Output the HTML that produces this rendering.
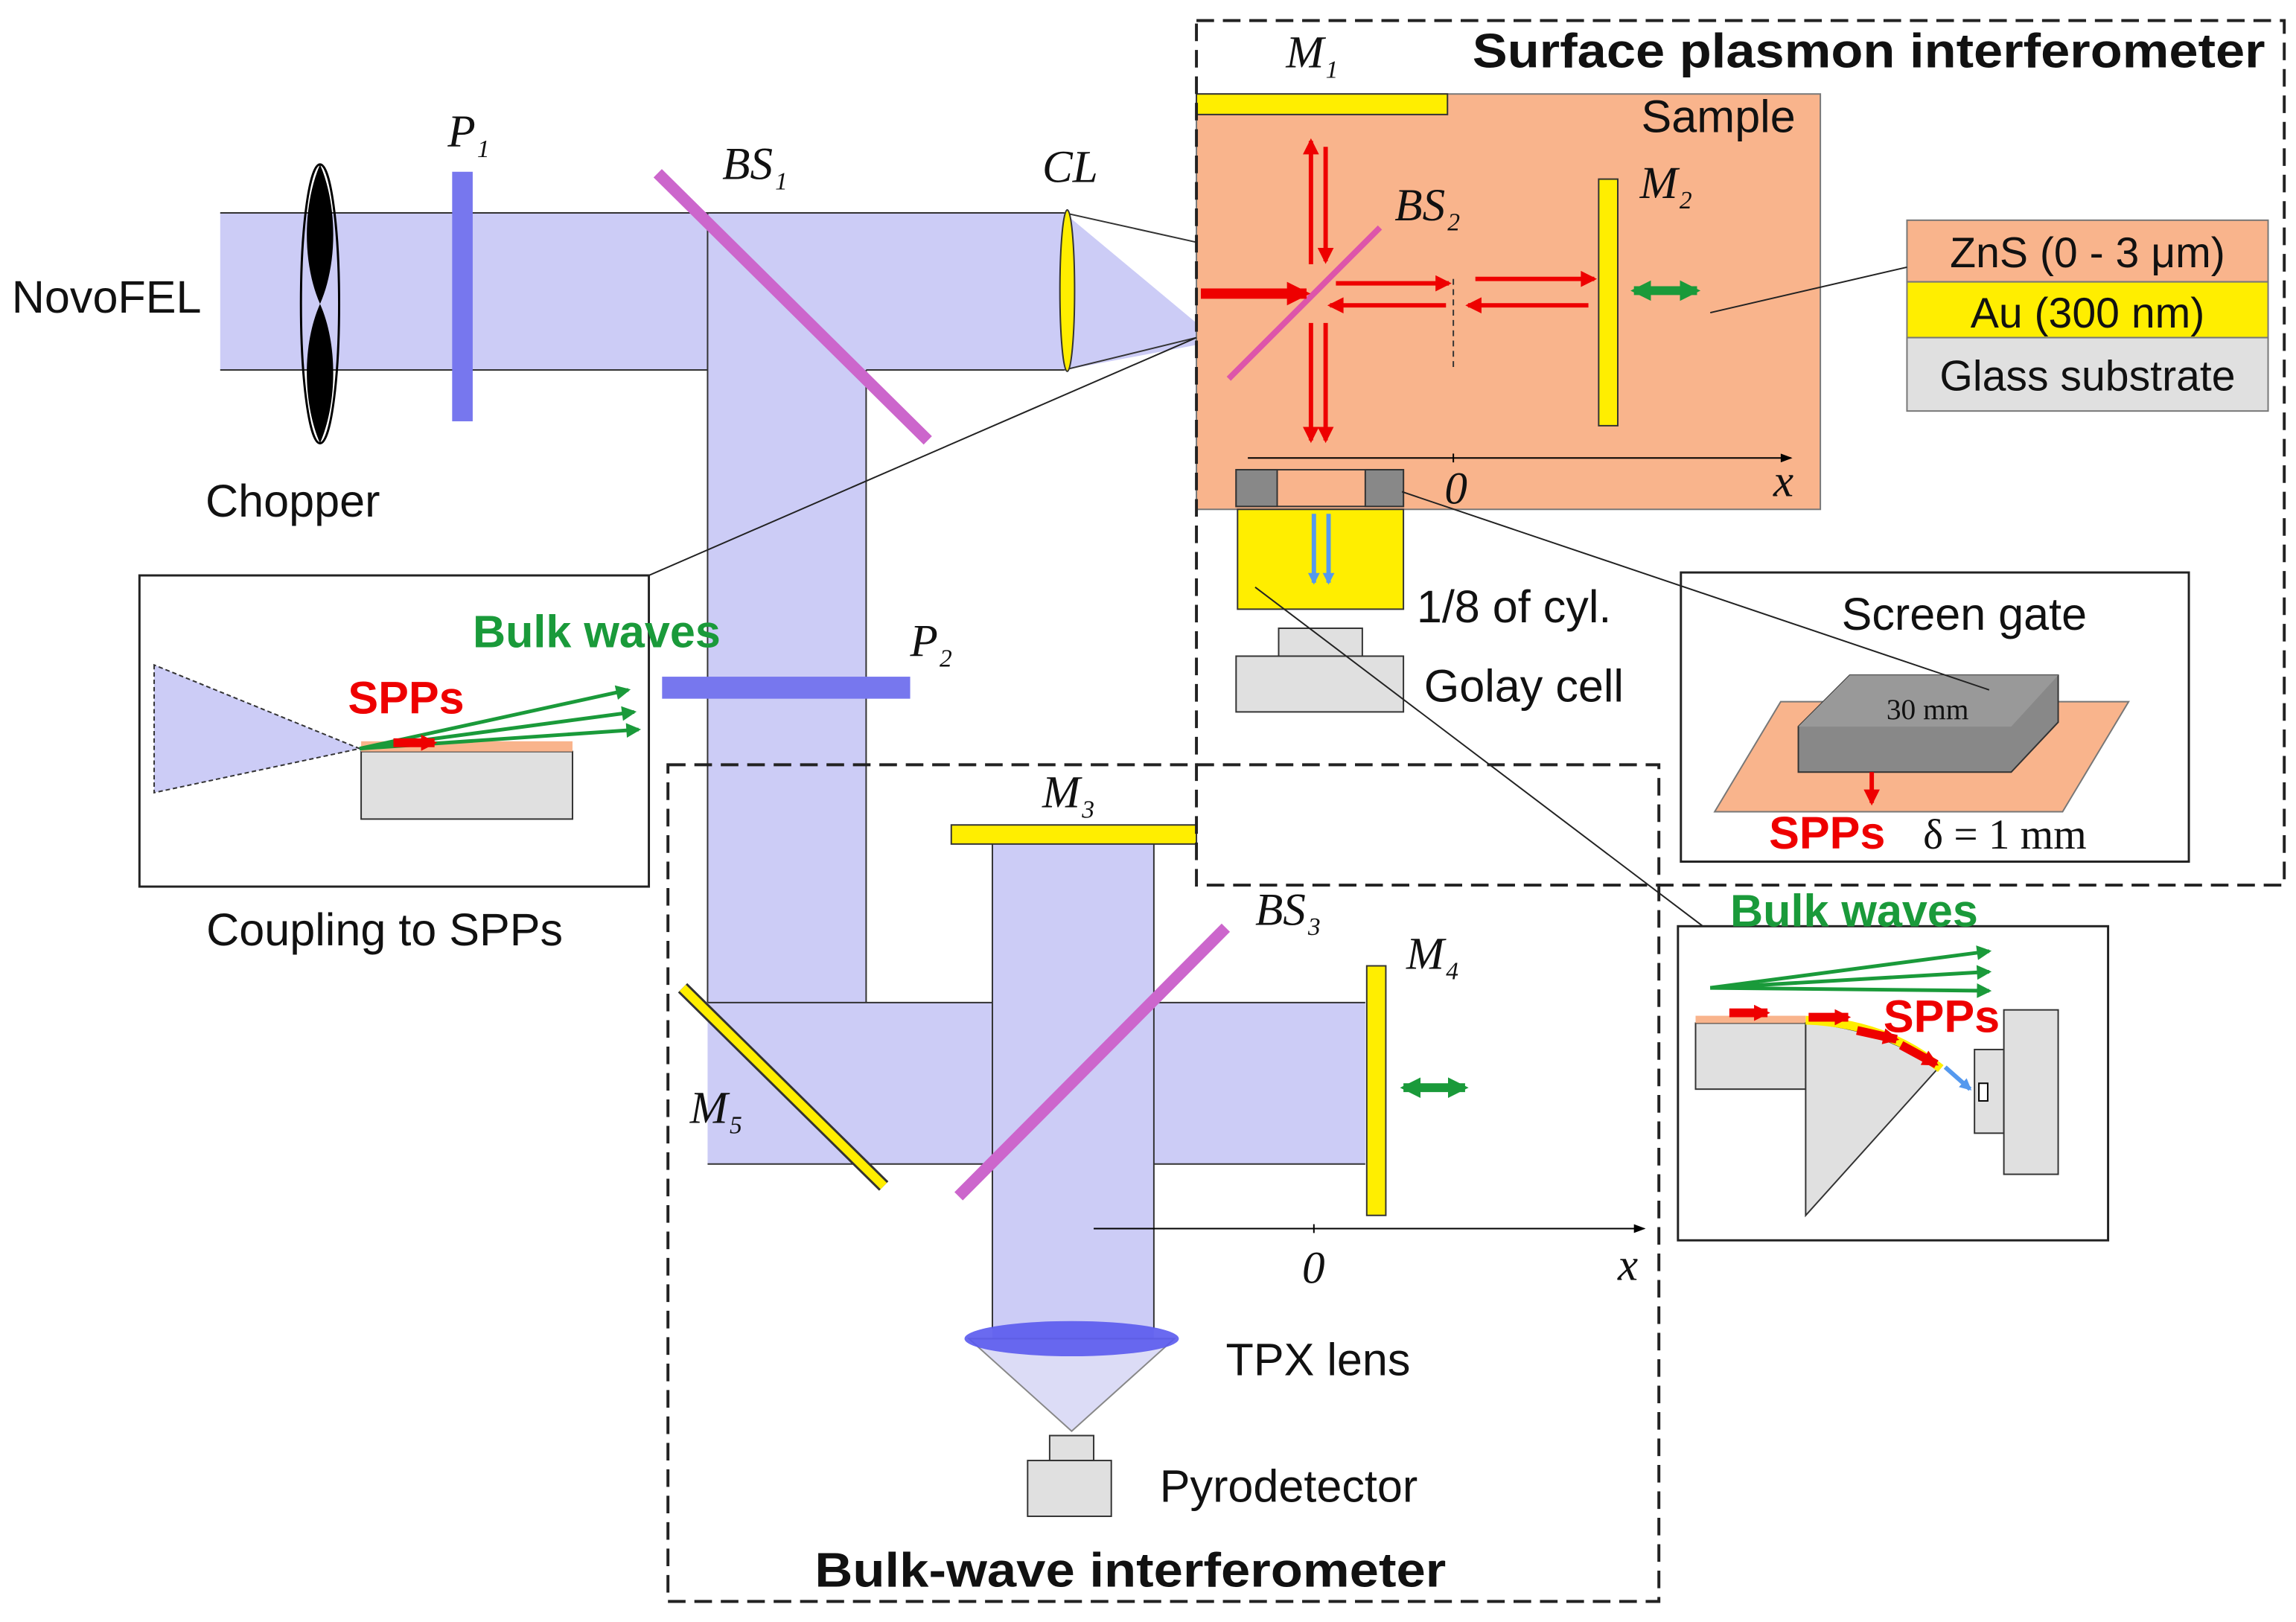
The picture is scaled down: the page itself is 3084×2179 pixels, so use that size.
<!DOCTYPE html>
<html><head><meta charset="utf-8"><style>html,body{margin:0;padding:0;background:#fff}svg{display:block}text{font-family:"Liberation Sans",sans-serif;font-size:31px;fill:#111}.i{font-family:"Liberation Serif",serif;font-style:italic;font-size:31px}.s{font-family:"Liberation Serif",serif;font-style:italic;font-size:17px}.b{font-weight:bold}</style></head><body>
<svg width="3084" height="2179" viewBox="0 0 1564 1105" xmlns="http://www.w3.org/2000/svg">
<defs>
<marker id="ar" markerUnits="userSpaceOnUse" viewBox="0 0 6 6" markerWidth="13" markerHeight="11" refX="5" refY="3" orient="auto"><path d="M0,0L6,3L0,6z" fill="#e00"/></marker>
<marker id="arb" markerUnits="userSpaceOnUse" viewBox="0 0 6 6" markerWidth="16" markerHeight="18" refX="5" refY="3" orient="auto"><path d="M0,0L6,3L0,6z" fill="#e00"/></marker>
<marker id="ag" markerUnits="userSpaceOnUse" viewBox="0 0 6 6" markerWidth="12" markerHeight="10" refX="5" refY="3" orient="auto"><path d="M0,0L6,3L0,6z" fill="#1a9a3a"/></marker>
<marker id="ag2" markerUnits="userSpaceOnUse" viewBox="0 0 6 6" markerWidth="14" markerHeight="20" refX="5" refY="3" orient="auto-start-reverse"><path d="M0,0L6,3L0,6z" fill="#1a9a3a"/></marker>
<marker id="ab" markerUnits="userSpaceOnUse" viewBox="0 0 6 6" markerWidth="9" markerHeight="8" refX="5" refY="3" orient="auto"><path d="M0,0L6,3L0,6z" fill="#5599ee"/></marker>
<marker id="ak" markerUnits="userSpaceOnUse" viewBox="0 0 8 6" markerWidth="10" markerHeight="6" refX="7" refY="3" orient="auto"><path d="M0,0L8,3L0,6z" fill="#000"/></marker>
</defs>
<g fill="#ccccf6">
<rect x="150" y="145" width="575" height="107"/>
<polygon points="725,145 815,220 815,235 725,252"/>
<rect x="482" y="200" width="108" height="483"/>
<rect x="482" y="683" width="448" height="110"/>
<rect x="676" y="570" width="110" height="342"/>
</g>
<g stroke="#333" stroke-width="1" fill="none">
<line x1="150" y1="145" x2="725" y2="145"/><line x1="150" y1="252" x2="482" y2="252"/><line x1="590" y1="252" x2="725" y2="252"/>
<line x1="725" y1="145" x2="815" y2="165"/><line x1="725" y1="252" x2="815" y2="230"/>
<line x1="482" y1="145" x2="482" y2="683"/><line x1="590" y1="252" x2="590" y2="683"/>
<line x1="482" y1="683" x2="676" y2="683"/><line x1="786" y1="683" x2="930" y2="683"/>
<line x1="482" y1="793" x2="676" y2="793"/><line x1="786" y1="793" x2="930" y2="793"/>
<line x1="676" y1="575" x2="676" y2="905"/><line x1="786" y1="575" x2="786" y2="905"/>
</g>
<polygon points="660,912 800,912 730,975" fill="#dcdcf6" stroke="#888" stroke-width="1"/>
<ellipse cx="730" cy="912" rx="73" ry="12" fill="#5a5aee" opacity="0.9"/>
<rect x="715" y="978" width="30" height="17" fill="#e0e0e0" stroke="#333"/>
<rect x="700" y="995" width="57" height="38" fill="#e0e0e0" stroke="#333"/>
<ellipse cx="218" cy="207" rx="13" ry="95" fill="none" stroke="#000" stroke-width="1.5"/>
<path d="M218,112 C230,140 230,180 218,207 C206,180 206,140 218,112z M218,207 C230,234 230,274 218,302 C206,274 206,234 218,207z" fill="#000"/>
<rect x="308" y="117" width="14" height="170" fill="#7777ee"/>
<line x1="448" y1="118" x2="632" y2="300" stroke="#cc66cc" stroke-width="8"/>
<ellipse cx="727" cy="198" rx="5" ry="55" fill="#ffee00" stroke="#333"/>
<rect x="451" y="461" width="169" height="15" fill="#7777ee"/>
<line x1="465" y1="673" x2="602" y2="808" stroke="#333" stroke-width="9"/><line x1="465" y1="673" x2="602" y2="808" stroke="#ffee00" stroke-width="6"/>
<line x1="653" y1="815" x2="835" y2="632" stroke="#cc66cc" stroke-width="8"/>
<rect x="648" y="562" width="167" height="13" fill="#ffee00" stroke="#333"/>
<rect x="931" y="658" width="13" height="170" fill="#ffee00" stroke="#333"/>
<line x1="956" y1="741" x2="998" y2="741" stroke="#1a9a3a" stroke-width="6" marker-start="url(#ag2)" marker-end="url(#ag2)"/>
<line x1="745" y1="837" x2="1120" y2="837" stroke="#000" marker-end="url(#ak)"/><line x1="895" y1="834" x2="895" y2="840" stroke="#000"/>
<text x="887" y="874" class="i">0</text><text x="1102" y="872" class="i">x</text>
<rect x="455" y="521" width="675" height="570" fill="none" stroke="#222" stroke-width="2" stroke-dasharray="12,6"/>
<text x="770" y="1081" text-anchor="middle" class="b" style="font-size:33px" textLength="430" lengthAdjust="spacingAndGlyphs">Bulk-wave interferometer</text>
<!-- SPI -->
<rect x="815" y="64" width="425" height="283" fill="#f9b48c" stroke="#777"/>
<rect x="815" y="64" width="171" height="14" fill="#ffee00" stroke="#333"/>
<rect x="815" y="14" width="741" height="589" fill="none" stroke="#222" stroke-width="2" stroke-dasharray="12,6"/>
<text x="1003" y="46" class="b" style="font-size:33px" textLength="540" lengthAdjust="spacingAndGlyphs">Surface plasmon interferometer</text>
<text x="876" y="46" class="i">M</text><text x="903" y="53" class="s">1</text>
<text x="1118" y="90">Sample</text>
<line x1="837" y1="258" x2="940" y2="155" stroke="#dd55aa" stroke-width="4"/>
<g stroke="#e00" stroke-width="3" fill="none">
<line x1="818" y1="200" x2="890" y2="200" stroke-width="7" marker-end="url(#arb)"/>
<line x1="893" y1="180" x2="893" y2="96" marker-end="url(#ar)"/><line x1="903" y1="100" x2="903" y2="178" marker-end="url(#ar)"/>
<line x1="893" y1="220" x2="893" y2="300" marker-end="url(#ar)"/><line x1="903" y1="220" x2="903" y2="300" marker-end="url(#ar)"/>
<line x1="910" y1="193" x2="987" y2="193" marker-end="url(#ar)"/><line x1="985" y1="208" x2="906" y2="208" marker-end="url(#ar)"/>
<line x1="1005" y1="190" x2="1086" y2="190" marker-end="url(#ar)"/><line x1="1082" y1="208" x2="1000" y2="208" marker-end="url(#ar)"/>
</g>
<line x1="990" y1="190" x2="990" y2="252" stroke="#333" stroke-dasharray="4,3"/>
<rect x="1089" y="122" width="13" height="168" fill="#ffee00" stroke="#333"/>
<line x1="1113" y1="198" x2="1156" y2="198" stroke="#1a9a3a" stroke-width="6" marker-start="url(#ag2)" marker-end="url(#ag2)"/>
<text x="950" y="150" class="i">BS</text><text x="986" y="157" class="s">2</text>
<text x="1117" y="135" class="i">M</text><text x="1144" y="142" class="s">2</text>
<line x1="850" y1="312" x2="1220" y2="312" stroke="#000" marker-end="url(#ak)"/><line x1="990" y1="309" x2="990" y2="315" stroke="#000"/>
<text x="984" y="343" class="i">0</text><text x="1208" y="338" class="i">x</text>
<rect x="842" y="320" width="114" height="25" fill="none" stroke="#333"/>
<rect x="842" y="320" width="28" height="25" fill="#888" stroke="#333"/><rect x="930" y="320" width="26" height="25" fill="#888" stroke="#333"/>
<rect x="843" y="347" width="113" height="68" fill="#ffee00" stroke="#333"/>
<line x1="895" y1="350" x2="895" y2="397" stroke="#5599ee" stroke-width="3" marker-end="url(#ab)"/><line x1="905" y1="350" x2="905" y2="397" stroke="#5599ee" stroke-width="3" marker-end="url(#ab)"/>
<text x="965" y="424">1/8 of cyl.</text>
<rect x="871" y="428" width="57" height="19" fill="#e0e0e0" stroke="#333"/>
<rect x="842" y="447" width="114" height="38" fill="#e0e0e0" stroke="#333"/>
<text x="970" y="478">Golay cell</text>
<rect x="1299" y="150" width="246" height="42" fill="#f9b48c" stroke="#777"/>
<rect x="1299" y="192" width="246" height="38" fill="#ffee00" stroke="#777"/>
<rect x="1299" y="230" width="246" height="50" fill="#e0e0e0" stroke="#777"/>
<text x="1422" y="182" text-anchor="middle" style="font-size:29px">ZnS (0 - 3 μm)</text>
<text x="1422" y="223" text-anchor="middle" style="font-size:29px">Au (300 nm)</text>
<text x="1422" y="266" text-anchor="middle" style="font-size:29px">Glass substrate</text>
<!-- screen gate inset -->
<rect x="1145" y="390" width="346" height="197" fill="#fff" stroke="#222" stroke-width="1.5"/>
<text x="1338" y="429" text-anchor="middle">Screen gate</text>
<polygon points="1168,553 1405,553 1450,478 1213,478" fill="#f9b48c" stroke="#777"/>
<polygon points="1225,495 1260,460 1402,460 1402,492 1370,526 1225,526" fill="#888" stroke="#333"/>
<polygon points="1225,495 1260,460 1402,460 1370,495" fill="#999"/>
<text x="1285" y="490" style="font-family:'Liberation Serif',serif;font-size:20px">30 mm</text>
<line x1="1275" y1="526" x2="1275" y2="547" stroke="#e00" stroke-width="3" marker-end="url(#ar)"/>
<text x="1205" y="578" class="b" style="fill:#e00">SPPs</text>
<text x="1310" y="578" style="font-family:'Liberation Serif',serif;font-size:29px">δ = 1 mm</text>
<!-- coupling inset -->
<rect x="95" y="392" width="347" height="212" fill="#fff" stroke="#222" stroke-width="1.5"/>
<polygon points="105,453 105,540 245,510" fill="#ccccf6" stroke="#333" stroke-dasharray="3,2"/>
<rect x="246" y="512" width="144" height="46" fill="#e0e0e0" stroke="#333"/>
<rect x="246" y="505" width="144" height="7" fill="#f9b48c"/>
<g stroke="#1a9a3a" stroke-width="2.5" marker-end="url(#ag)"><line x1="245" y1="510" x2="428" y2="470"/><line x1="245" y1="510" x2="432" y2="485"/><line x1="245" y1="510" x2="435" y2="497"/></g>
<line x1="268" y1="506" x2="296" y2="506" stroke="#e00" stroke-width="6" marker-end="url(#ar)"/>
<text x="237" y="486" class="b" style="fill:#e00">SPPs</text>
<text x="322" y="441" class="b" style="fill:#1a9a3a">Bulk waves</text>
<text x="262" y="644" text-anchor="middle">Coupling to SPPs</text>
<!-- bulk inset -->
<rect x="1143" y="631" width="293" height="214" fill="#fff" stroke="#222" stroke-width="1.5"/>
<text x="1263" y="631" text-anchor="middle" class="b" style="fill:#1a9a3a">Bulk waves</text>
<rect x="1155" y="697" width="75" height="45" fill="#e0e0e0" stroke="#333"/>
<rect x="1155" y="692" width="75" height="5" fill="#f9b48c"/>
<path d="M1230,697 L1230,828 L1320,728 Q1280,700 1230,697z" fill="#e0e0e0" stroke="#333"/>
<path d="M1230,695 Q1285,697 1322,728" fill="none" stroke="#ffee00" stroke-width="6"/>
<rect x="1345" y="715" width="20" height="57" fill="#e0e0e0" stroke="#333"/>
<rect x="1348" y="738" width="6" height="12" fill="#fff" stroke="#000"/>
<rect x="1365" y="688" width="37" height="112" fill="#e0e0e0" stroke="#333"/>
<g stroke="#1a9a3a" stroke-width="2.5" marker-end="url(#ag)"><line x1="1165" y1="673" x2="1355" y2="648"/><line x1="1165" y1="673" x2="1355" y2="662"/><line x1="1165" y1="673" x2="1355" y2="675"/></g>
<g stroke="#e00" stroke-width="6" marker-end="url(#ar)"><line x1="1178" y1="690" x2="1204" y2="690"/><line x1="1232" y1="693" x2="1259" y2="693"/><line x1="1265" y1="702" x2="1292" y2="708"/><line x1="1295" y1="712" x2="1319" y2="725"/></g>
<line x1="1325" y1="727" x2="1342" y2="742" stroke="#5599ee" stroke-width="3" marker-end="url(#ab)"/>
<text x="1283" y="703" class="b" style="fill:#e00">SPPs</text>
<!-- connector lines -->
<g stroke="#222" stroke-width="1" fill="none">
<line x1="815" y1="230" x2="442" y2="392"/>
<line x1="855" y1="400" x2="1160" y2="631"/>
<line x1="955" y1="335" x2="1355" y2="470"/>
<line x1="1165" y1="213" x2="1299" y2="182"/>
</g>
<!-- labels -->
<text x="8" y="213">NovoFEL</text>
<text x="140" y="352">Chopper</text>
<text x="305" y="100" class="i">P</text><text x="325" y="107" class="s">1</text>
<text x="492" y="122" class="i">BS</text><text x="528" y="129" class="s">1</text>
<text x="710" y="124" class="i">CL</text>
<text x="620" y="447" class="i">P</text><text x="640" y="454" class="s">2</text>
<text x="710" y="550" class="i">M</text><text x="737" y="557" class="s">3</text>
<text x="855" y="630" class="i">BS</text><text x="891" y="637" class="s">3</text>
<text x="958" y="660" class="i">M</text><text x="985" y="667" class="s">4</text>
<text x="470" y="765" class="i">M</text><text x="497" y="772" class="s">5</text>
<text x="835" y="937">TPX lens</text>
<text x="790" y="1023">Pyrodetector</text>
</svg>
</body></html>
